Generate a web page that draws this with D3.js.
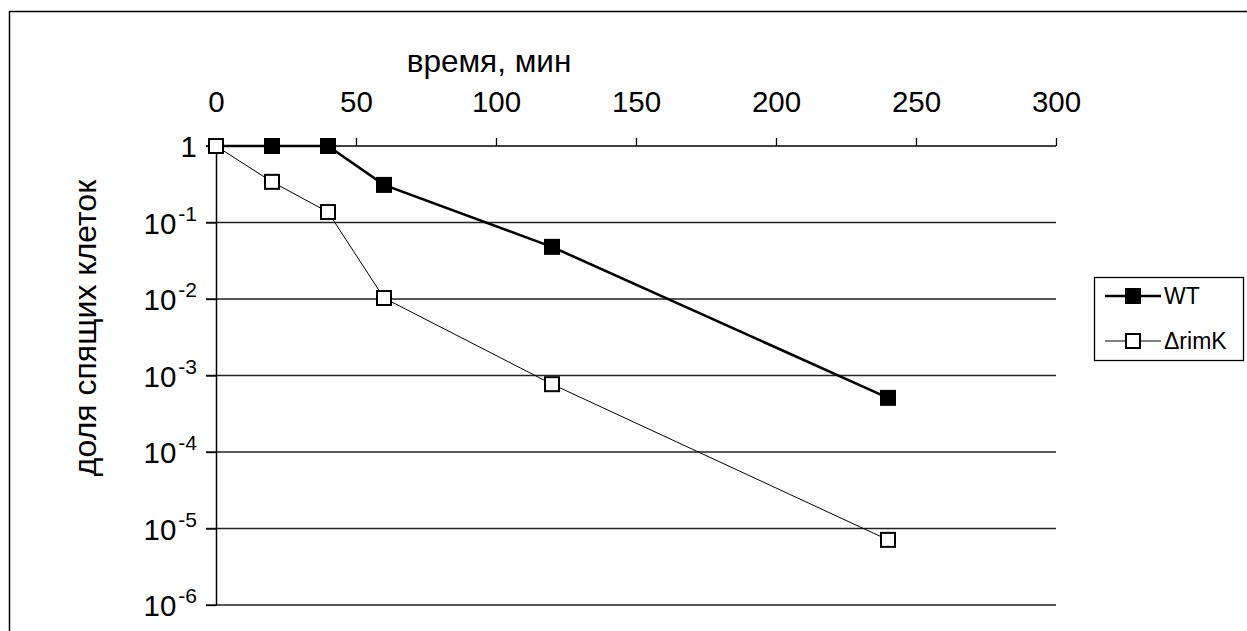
<!DOCTYPE html>
<html><head><meta charset="utf-8">
<script src="https://cdn.jsdelivr.net/npm/d3@7"></script>
<style>body{margin:0;background:#fff}svg{display:block}text{font-family:"Liberation Sans",Arial,sans-serif;fill:#000}</style>
</head><body><svg id="c" width="1247" height="631"></svg>
<script>
const timeMin = [0, 20, 40, 60, 120, 240];
const wtValues = [1, 1, 1, 0.31, 0.048, 5.1e-4];
const rimkValues = [1, 0.34, 0.137, 0.0103, 7.7e-4, 7.1e-6];
const xTicks = [0, 50, 100, 150, 200, 250, 300];
const yExponents = [0, -1, -2, -3, -4, -5, -6];
const seriesNames = ["WT", "\u0394rimK"];
const xTitle = "время, мин";
const yTitle = "доля спящих клеток";

const svg = d3.select("#c");
svg.append("rect").attr("x",9.5).attr("y",11.5).attr("width",1260).attr("height",640)
  .attr("fill","none").attr("stroke","#000").attr("stroke-width",1.5);

const x = d3.scaleLinear().domain([0,300]).range([216,1056]);
const y = d3.scaleLog().domain([1e-6,1]).range([605,146]);
const yTickVals = yExponents.map(e => Math.pow(10,e));

// gridlines
svg.append("g").selectAll("line").data(yTickVals.slice(1)).join("line")
  .attr("x1",206).attr("x2",x(300)).attr("y1",d=>y(d)).attr("y2",d=>y(d))
  .attr("stroke","#222").attr("stroke-width",1.3);

// y axis
const ya = svg.append("g").attr("transform",`translate(${x(0)},0)`)
  .call(d3.axisLeft(y).tickValues(yTickVals).tickFormat("").tickSize(10).tickSizeOuter(0));
ya.select(".domain").attr("stroke","#000").attr("stroke-width",1.5);
ya.selectAll(".tick line").attr("stroke","#000").attr("stroke-width",1.3);

// y labels
const yl = svg.append("g").selectAll("text").data(yExponents).join("text")
  .attr("x",197).attr("y",d=>y(Math.pow(10,d))+11).attr("text-anchor","end")
  .style("font-size","29.5px");
yl.each(function(e){
  const t = d3.select(this);
  if (e===0){ t.text("1"); }
  else {
    t.append("tspan").text("10");
    t.append("tspan").attr("dx",2).attr("dy",-13).style("font-size","21px").text(String(e));
  }
});

// x axis (top at y=1)
const xa = svg.append("g").attr("transform",`translate(0,${y(1)})`)
  .call(d3.axisTop(x).tickValues(xTicks).tickSize(8).tickSizeOuter(0).tickPadding(26));
xa.select(".domain").attr("stroke","#000").attr("stroke-width",1.5).attr("d",`M206,0H${x(300)}`);
xa.selectAll(".tick line").attr("stroke","#000").attr("stroke-width",1.3);
xa.selectAll(".tick text").style("font-size","29.5px").style("font-family",'"Liberation Sans",Arial,sans-serif').attr("fill","#000");

svg.append("text").attr("x",489).attr("y",72).attr("text-anchor","middle").style("font-size","31.5px").text(xTitle);
svg.append("text").attr("transform","translate(96,328) rotate(-90)").attr("text-anchor","middle").style("font-size","32px").text(yTitle);

const line = d3.line().x(d=>x(d[0])).y(d=>y(d[1]));
const wt = timeMin.map((t,i)=>[t,wtValues[i]]);
const rk = timeMin.map((t,i)=>[t,rimkValues[i]]);

svg.append("path").attr("d",line(rk)).attr("fill","none").attr("stroke","#000").attr("stroke-width",1);
svg.append("path").attr("d",line(wt)).attr("fill","none").attr("stroke","#000").attr("stroke-width",2.6);

svg.append("g").selectAll("rect").data(wt).join("rect")
  .attr("x",d=>x(d[0])-8).attr("y",d=>y(d[1])-8).attr("width",16).attr("height",16).attr("fill","#000");
svg.append("g").selectAll("rect").data(rk).join("rect")
  .attr("x",d=>x(d[0])-7).attr("y",d=>y(d[1])-7).attr("width",14).attr("height",14)
  .attr("fill","#fff").attr("stroke","#000").attr("stroke-width",2);

// legend
const lg = svg.append("g");
lg.append("rect").attr("x",1094.5).attr("y",277.5).attr("width",149).attr("height",83)
  .attr("fill","#fff").attr("stroke","#000").attr("stroke-width",1.3);
const rows = [{n:seriesNames[0],y:296,filled:true},{n:seriesNames[1],y:341,filled:false}];
rows.forEach(r=>{
  lg.append("line").attr("x1",1105).attr("x2",1161).attr("y1",r.y).attr("y2",r.y)
    .attr("stroke","#000").attr("stroke-width",r.filled?2.6:1);
  if (r.filled) lg.append("rect").attr("x",1125).attr("y",r.y-8).attr("width",16).attr("height",16).attr("fill","#000");
  else lg.append("rect").attr("x",1126).attr("y",r.y-7).attr("width",14).attr("height",14).attr("fill","#fff").attr("stroke","#000").attr("stroke-width",2);
  lg.append("text").attr("x",1164).attr("y",r.y+8).style("font-size","23px").text(r.n);
});
</script></body></html>
